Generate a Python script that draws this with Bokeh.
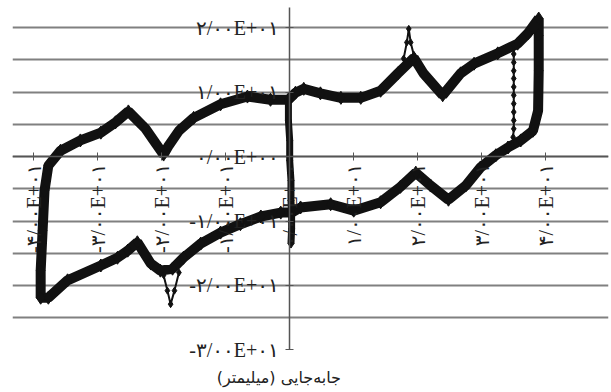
import math
from bokeh.plotting import figure
from bokeh.models import FixedTicker, Range1d, Label
from bokeh.embed import file_html
from bokeh.resources import INLINE

# Main hysteresis loop (displacement x, force y)
loop_x = [0.3, 1.7, 6.4, 10.0, 14.2, 17.3, 19.7, 22.0, 24.8, 27.5, 29.8, 32.2, 34.1, 36.1, 38.0, 38.8, 38.9, 38.9, 38.9,
          37.2, 35.6, 32.5, 28.8, 26.7, 23.9, 20.9, 19.4, 16.9, 14.2, 11.1, 8.0, 4.8, 2.2, 0.9, -0.2, -3.0, -6.6,
          -10.8, -15.0, -17.3, -18.9, -19.7, -20.9, -22.5, -25.2, -27.2, -29.5, -32.7, -35.8, -37.7, -38.3, -38.6,
          -38.9, -38.9,
          -37.7, -34.7, -29.5, -26.9, -25.3, -23.8, -21.7, -20.2, -18.3, -16.6, -13.9, -10.8, -7.7, -4.5, -1.4, 0.3]
loop_y = [-8.7, -7.9, -7.4, -8.4, -7.1, -4.7, -2.5, -4.5, -6.7, -4.5, -1.7, 0.2, 1.4, 2.5, 4.0, 7.1, 13.3, 18.8, 21.4,
          19.1, 17.5, 16.0, 14.4, 12.9, 9.5, 12.9, 15.3, 12.9, 10.2, 9.1, 9.1, 9.8, 10.5, 9.9, 8.8, 8.8, 9.3,
          8.1, 6.0, 4.0, 1.7, 0.3, 2.0, 4.3, 7.0, 5.3, 3.7, 2.5, 0.9, -1.4, -5.3, -11.5,
          -17.7, -21.9,
          -21.9, -19.2, -16.9, -15.7, -14.6, -13.3, -16.6, -17.7, -17.4, -15.7, -13.5, -11.8, -10.5, -9.3, -8.7, -8.7]

# Jump at zero displacement
center_x = [-0.2, -0.2, 0.0, 0.0, 0.2, 0.2, 0.3, 0.3, 0.2]
center_y = [9.1, 5.6, 2.5, -0.6, -3.7, -6.8, -9.1, -11.2, -13.5]

# Inner jump near the right end
right_x = [35.0, 35.0, 35.0, 35.0, 35.0, 35.0, 35.0, 35.0, 35.0, 35.0, 35.0, 34.9, 34.8]
right_y = [17.2, 15.9, 14.6, 13.3, 12.1, 10.8, 9.5, 8.2, 6.9, 5.6, 4.3, 3.0, 1.7]

# Spikes
spike_up_x = [17.8, 18.3, 18.6, 18.9, 19.4]
spike_up_y = [15.2, 17.7, 19.8, 17.7, 15.7]
spike_dn_x = [-19.7, -19.1, -18.6, -18.0, -17.3]
spike_dn_y = [-18.4, -20.8, -22.9, -20.8, -18.0]

x_ticks = [-40, -30, -20, -10, 0, 10, 20, 30, 40]
x_tick_labels = ["-۴/۰۰E+۰۱", "-۳/۰۰E+۰۱", "-۲/۰۰E+۰۱", "-۱/۰۰E+۰۱", "۰/۰۰E+۰۰",
                 "۱/۰۰E+۰۱", "۲/۰۰E+۰۱", "۳/۰۰E+۰۱", "۴/۰۰E+۰۱"]
y_ticks = [-30, -20, -10, 0, 10, 20]
y_tick_labels = ["-۳/۰۰E+۰۱", "-۲/۰۰E+۰۱", "-۱/۰۰E+۰۱", "۰/۰۰E+۰۰", "۱/۰۰E+۰۱", "۲/۰۰E+۰۱"]
grid_levels = [-25, -20, -15, -10, -5, 0, 5, 10, 15, 20]
x_title = "جابه‌جایی (میلیمتر)"

p = figure(width=611, height=392, output_backend="svg", toolbar_location=None,
           x_range=Range1d(-43.3, 49.8), y_range=Range1d(-36.6, 24.2),
           min_border_left=12, min_border_right=3, min_border_top=0, min_border_bottom=0)
p.outline_line_color = None
p.background_fill_color = "white"

line_col = "#111111"
p.line(loop_x, loop_y, line_width=10, color=line_col)
p.scatter(loop_x, loop_y, marker="diamond", size=13, color=line_col)
p.line(center_x, center_y, line_width=7, color=line_col)
p.scatter(center_x, center_y, marker="diamond", size=9, color=line_col)
p.line(right_x, right_y, line_width=2, color=line_col)
p.scatter(right_x, right_y, marker="diamond", size=7, color=line_col)
p.line(spike_up_x, spike_up_y, line_width=2, color=line_col)
p.scatter(spike_up_x, spike_up_y, marker="diamond", size=7, color=line_col)
p.line(spike_dn_x, spike_dn_y, line_width=2, color=line_col)
p.scatter(spike_dn_x, spike_dn_y, marker="diamond", size=7, color=line_col)

tick_font = "Liberation Serif, DejaVu Sans"
p.xaxis.fixed_location = 0
p.yaxis.fixed_location = 0
p.yaxis.bounds = (-30, 23.1)
p.xaxis.ticker = FixedTicker(ticks=x_ticks)
p.yaxis.ticker = FixedTicker(ticks=y_ticks)
p.xaxis.major_label_overrides = {t: l for t, l in zip(x_ticks, x_tick_labels)}
p.yaxis.major_label_overrides = {t: l for t, l in zip(y_ticks, y_tick_labels)}
p.xaxis.major_label_orientation = math.pi / 2
for ax in (p.xaxis, p.yaxis):
    ax.major_label_text_font = tick_font
    ax.major_label_text_font_size = "20px"
    ax.major_label_text_color = "#222222"
    ax.axis_line_color = "#555555"
    ax.axis_line_width = 1.5
    ax.major_tick_line_color = "#555555"
    ax.major_tick_in = 4
    ax.major_tick_out = 4
    ax.minor_tick_line_color = None
p.xaxis.major_label_standoff = 3
p.yaxis.major_label_standoff = 7

p.xgrid.visible = False
p.ygrid.ticker = FixedTicker(ticks=grid_levels)
p.ygrid.grid_line_color = "#808080"
p.ygrid.grid_line_width = 2

p.add_layout(Label(x=-1.7, y=-34.3, text=x_title, text_align="center", text_baseline="middle",
                   text_font="DejaVu Sans", text_font_size="16px", text_color="#222222"))

open("out.html", "w").write(file_html(p, INLINE))
